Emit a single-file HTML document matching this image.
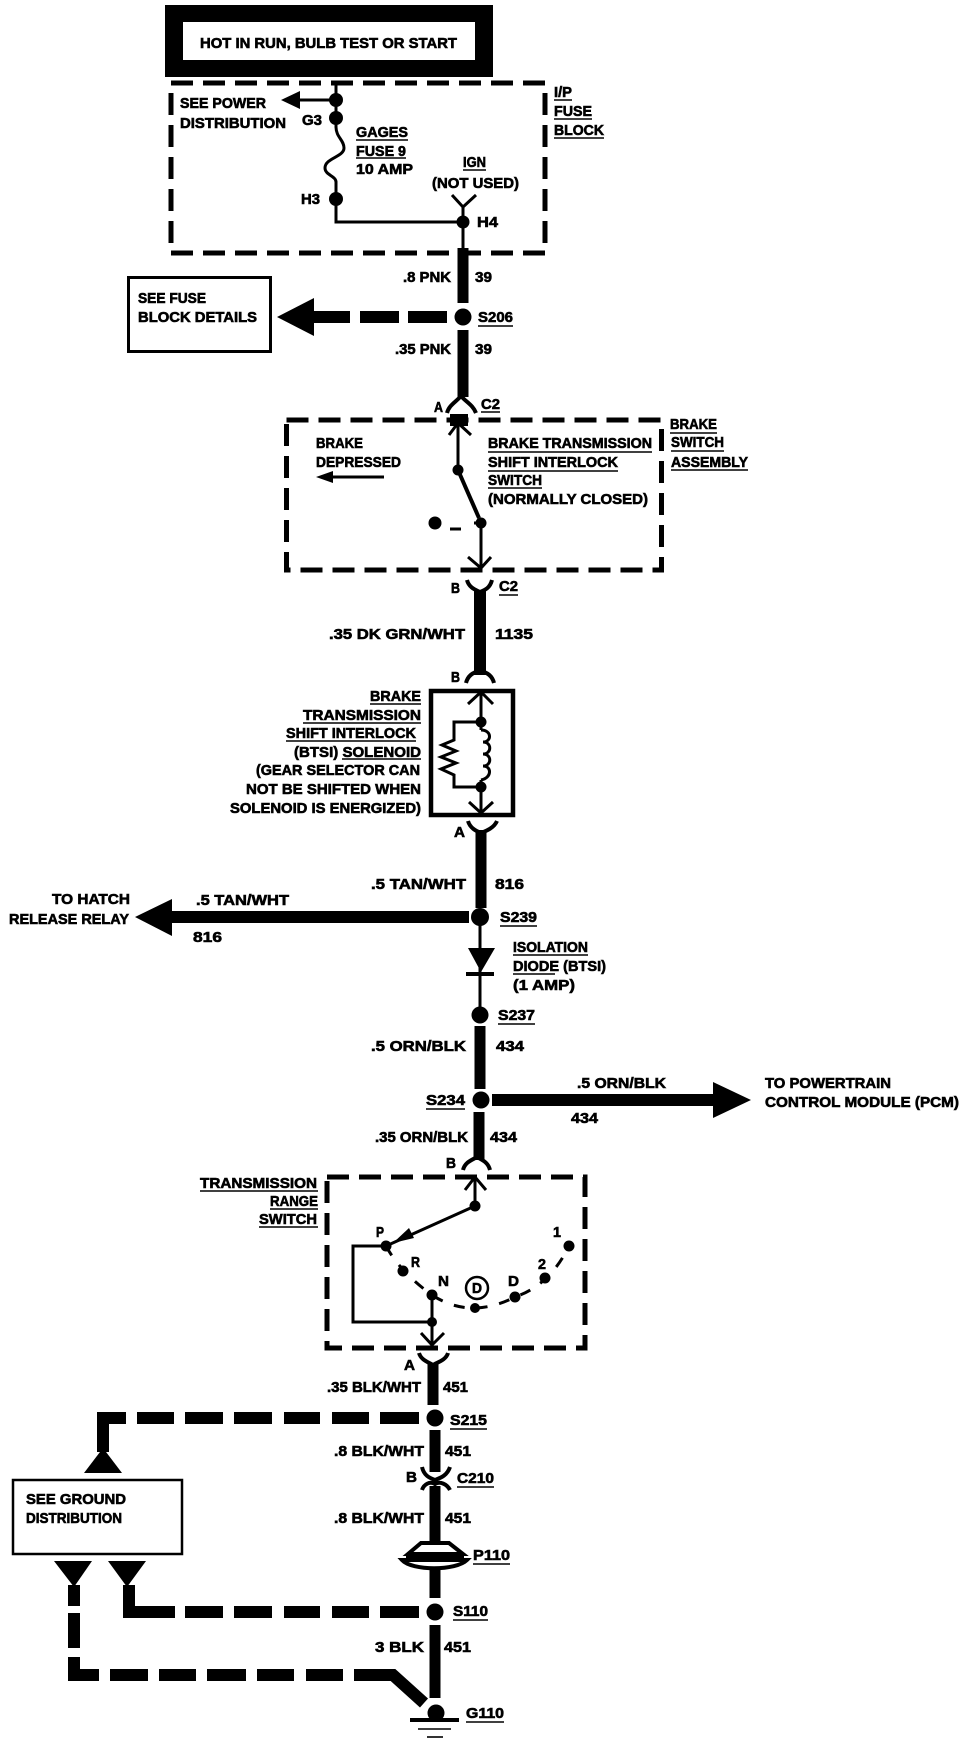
<!DOCTYPE html>
<html><head><meta charset="utf-8"><style>
html,body{margin:0;padding:0;background:#fff;width:960px;height:1744px;overflow:hidden}
svg{display:block}
text{font-family:"Liberation Sans",sans-serif;font-weight:700;font-size:14.5px;fill:#000;stroke:#000;stroke-width:.6}
.d5{fill:none;stroke:#000;stroke-width:5;stroke-dasharray:22 10}
.u{stroke:#000;stroke-width:1.6;fill:none}
.t{stroke:#000;stroke-width:3;fill:none}
.w{stroke:#000;stroke-width:11;fill:none}
.a{stroke:#000;stroke-width:4;fill:none}
.b{stroke:#000;stroke-width:12;fill:none}
</style></head><body>
<svg width="960" height="1744" viewBox="0 0 960 1744" xmlns="http://www.w3.org/2000/svg">
<rect width="960" height="1744" fill="#fff"/>
<!-- header -->
<rect x="165" y="5" width="328" height="72" fill="#000"/>
<rect x="183" y="22" width="292" height="38" fill="#fff"/>
<text x="200" y="48" textLength="257" lengthAdjust="spacingAndGlyphs">HOT IN RUN, BULB TEST OR START</text>
<!-- IP fuse block -->
<rect x="171" y="83" width="374" height="170" class="d5"/>
<path class="t" d="M336 83V127C336 137 344 140 344 148C344 157 325 158 325 168C325 175 336 176 336 182V222H463"/>
<path class="t" stroke-width="4" d="M336 100H300"/>
<path d="M281 100L300 91V109Z"/>
<circle cx="336" cy="100" r="7"/><circle cx="336" cy="118" r="7"/><circle cx="336" cy="199" r="7"/><circle cx="463" cy="222" r="6.5"/>
<path class="t" d="M463 207V250M452 195L463 207L476 195"/>
<text x="180" y="108" textLength="86" lengthAdjust="spacingAndGlyphs">SEE POWER</text>
<text x="180" y="128" textLength="106" lengthAdjust="spacingAndGlyphs">DISTRIBUTION</text>
<text x="302" y="125" textLength="20" lengthAdjust="spacingAndGlyphs">G3</text>
<text x="356" y="137" textLength="52" lengthAdjust="spacingAndGlyphs">GAGES</text>
<text x="356" y="156" textLength="50" lengthAdjust="spacingAndGlyphs">FUSE 9</text>
<text x="356" y="174" textLength="57" lengthAdjust="spacingAndGlyphs">10 AMP</text>
<text x="463" y="167" textLength="23" lengthAdjust="spacingAndGlyphs">IGN</text>
<text x="432" y="188" textLength="87" lengthAdjust="spacingAndGlyphs">(NOT USED)</text>
<text x="301" y="204" textLength="19" lengthAdjust="spacingAndGlyphs">H3</text>
<text x="477" y="227" textLength="21" lengthAdjust="spacingAndGlyphs">H4</text>
<text x="554" y="97" textLength="18" lengthAdjust="spacingAndGlyphs">I/P</text>
<text x="554" y="116" textLength="38" lengthAdjust="spacingAndGlyphs">FUSE</text>
<text x="554" y="135" textLength="50" lengthAdjust="spacingAndGlyphs">BLOCK</text>
<path class="u" d="M356 140H408M356 158H406M463 170H486M554 100H572M554 119H592M554 138H604"/>
<!-- wire 39 -->
<path class="w" d="M463 248V303M463 330V397"/>
<text x="403" y="282" textLength="48" lengthAdjust="spacingAndGlyphs">.8 PNK</text>
<text x="475" y="282" textLength="17" lengthAdjust="spacingAndGlyphs">39</text>
<text x="395" y="354" textLength="56" lengthAdjust="spacingAndGlyphs">.35 PNK</text>
<text x="475" y="354" textLength="17" lengthAdjust="spacingAndGlyphs">39</text>
<rect x="128.500" y="277.500" width="142" height="74" fill="#fff" stroke="#000" stroke-width="3"/>
<text x="138" y="303" textLength="68" lengthAdjust="spacingAndGlyphs">SEE FUSE</text>
<text x="138" y="322" textLength="119" lengthAdjust="spacingAndGlyphs">BLOCK DETAILS</text>
<path d="M277 317L314 298V336Z"/>
<path class="b" d="M312 317H350M360 317H399M408 317H447"/>
<circle cx="463" cy="317" r="8.500"/>
<text x="478" y="322" textLength="35" lengthAdjust="spacingAndGlyphs">S206</text>
<path class="u" d="M478 326H513"/>
<!-- C2 A -->
<path class="a" d="M447 413C449 405 456 402 461 396C466 402 473 405 476 413"/>
<text x="434" y="412" textLength="9" lengthAdjust="spacingAndGlyphs">A</text>
<text x="481" y="409" textLength="19" lengthAdjust="spacingAndGlyphs">C2</text>
<path class="u" d="M481 412H500"/>
<!-- brake switch -->
<rect x="286.500" y="420" width="375" height="150" class="d5" stroke-dasharray="20 9"/>
<path class="b" stroke-width="5" d="M450 420H468"/>
<path class="t" d="M458 423V470M449 435L458 423L471 435M481 523V568M468 557L481 568L491 557"/>
<path class="a" d="M458 470L479 518"/>
<circle cx="458" cy="470" r="5.500"/><circle cx="481" cy="523" r="5.500"/><circle cx="435" cy="523" r="6.500"/>
<path class="t" d="M450 529H461M474 523H481"/>
<text x="316" y="448" textLength="47" lengthAdjust="spacingAndGlyphs">BRAKE</text>
<text x="316" y="467" textLength="85" lengthAdjust="spacingAndGlyphs">DEPRESSED</text>
<path class="t" d="M330 477H384"/><path d="M316 477L333 471V483Z"/>
<text x="488" y="448" textLength="164" lengthAdjust="spacingAndGlyphs">BRAKE  TRANSMISSION</text>
<text x="488" y="467" textLength="130" lengthAdjust="spacingAndGlyphs">SHIFT  INTERLOCK</text>
<text x="488" y="485" textLength="54" lengthAdjust="spacingAndGlyphs">SWITCH</text>
<text x="488" y="504" textLength="160" lengthAdjust="spacingAndGlyphs">(NORMALLY  CLOSED)</text>
<text x="670" y="429" textLength="47" lengthAdjust="spacingAndGlyphs">BRAKE</text>
<text x="671" y="447" textLength="53" lengthAdjust="spacingAndGlyphs">SWITCH</text>
<text x="671" y="467" textLength="77" lengthAdjust="spacingAndGlyphs">ASSEMBLY</text>
<path class="u" d="M488 452H652M488 471H618M488 488H542M670 433H717M671 451H724M671 470H748"/>
<!-- C2 B wire 1135 -->
<path class="a" d="M467 580C469 588 476 590 480 592C485 590 490 588 492 580"/>
<path class="b" d="M480 590V675"/>
<path class="a" d="M466 683C468 675 474 672 480 671C486 672 492 675 494 683"/>
<text x="451" y="593" textLength="9" lengthAdjust="spacingAndGlyphs">B</text>
<text x="499" y="591" textLength="19" lengthAdjust="spacingAndGlyphs">C2</text>
<path class="u" d="M499 595H518"/>
<text x="329" y="639" textLength="136" lengthAdjust="spacingAndGlyphs">.35  DK  GRN/WHT</text>
<text x="495" y="639" textLength="38" lengthAdjust="spacingAndGlyphs">1135</text>
<text x="451" y="682" textLength="9" lengthAdjust="spacingAndGlyphs">B</text>
<!-- solenoid -->
<rect x="431" y="691" width="82" height="124" fill="none" stroke="#000" stroke-width="4.500"/>
<path class="t" d="M481 692V730M481 780V813M468 704L481 692L493 704M469 802L481 813L493 802"/>
<path class="t" d="M481 722H454V740L442 745L456 751L441 757L456 763L441 769L454 775V787H481"/>
<path class="t" d="M481 730C492 730 492 742 483 742C492 742 492 754 483 754C492 754 492 766 483 766C492 766 492 778 481 780"/>
<circle cx="481" cy="722" r="5.500"/><circle cx="481" cy="787" r="5.500"/>
<g text-anchor="end">
<text x="421" y="701" textLength="51" lengthAdjust="spacingAndGlyphs">BRAKE</text>
<text x="421" y="720" textLength="118" lengthAdjust="spacingAndGlyphs">TRANSMISSION</text>
<text x="416" y="738" textLength="130" lengthAdjust="spacingAndGlyphs">SHIFT  INTERLOCK</text>
<text x="421" y="757" textLength="127" lengthAdjust="spacingAndGlyphs">(BTSI) SOLENOID</text>
<text x="420" y="775" textLength="164" lengthAdjust="spacingAndGlyphs">(GEAR SELECTOR CAN</text>
<text x="421" y="794" textLength="175" lengthAdjust="spacingAndGlyphs">NOT BE SHIFTED WHEN</text>
<text x="421" y="813" textLength="191" lengthAdjust="spacingAndGlyphs">SOLENOID IS ENERGIZED)</text>
</g>
<path class="u" d="M370 704H421M303 723H421M286 741H416M342 759H421"/>
<path class="a" d="M468 821C470 828 476 831 481 833C486 831 494 828 497 821"/>
<text x="454" y="837" textLength="11" lengthAdjust="spacingAndGlyphs">A</text>
<path class="w" d="M481 830V908"/>
<text x="371" y="889" textLength="95" lengthAdjust="spacingAndGlyphs">.5  TAN/WHT</text>
<text x="495" y="889" textLength="29" lengthAdjust="spacingAndGlyphs">816</text>
<!-- S239 -->
<path class="b" d="M170 917H469"/>
<path d="M135 917L172 899V936Z"/>
<circle cx="480" cy="917" r="9"/>
<text x="500" y="922" textLength="37" lengthAdjust="spacingAndGlyphs">S239</text>
<path class="u" d="M500 926H537"/>
<text x="196" y="905" textLength="93" lengthAdjust="spacingAndGlyphs">.5 TAN/WHT</text>
<text x="193" y="942" textLength="29" lengthAdjust="spacingAndGlyphs">816</text>
<text x="52" y="904" textLength="78" lengthAdjust="spacingAndGlyphs">TO  HATCH</text>
<text x="9" y="924" textLength="120" lengthAdjust="spacingAndGlyphs">RELEASE  RELAY</text>
<!-- diode -->
<path class="t" d="M480 917V1015"/>
<path d="M468 948H495L481 972Z"/>
<path class="a" d="M466 974H494"/>
<circle cx="480" cy="1015" r="8.500"/>
<text x="498" y="1020" textLength="37" lengthAdjust="spacingAndGlyphs">S237</text>
<text x="513" y="952" textLength="75" lengthAdjust="spacingAndGlyphs">ISOLATION</text>
<text x="513" y="971" textLength="93" lengthAdjust="spacingAndGlyphs">DIODE (BTSI)</text>
<text x="513" y="990" textLength="62" lengthAdjust="spacingAndGlyphs">(1  AMP)</text>
<path class="u" d="M498 1024H535M513 955H588M513 974H555"/>
<path class="w" d="M480 1026V1089"/>
<text x="371" y="1051" textLength="95" lengthAdjust="spacingAndGlyphs">.5  ORN/BLK</text>
<text x="496" y="1051" textLength="28" lengthAdjust="spacingAndGlyphs">434</text>
<!-- S234 -->
<circle cx="481" cy="1100" r="8.500"/>
<path class="b" d="M492 1100H715"/>
<path d="M751 1100L713 1082V1118Z"/>
<text x="426" y="1105" textLength="39" lengthAdjust="spacingAndGlyphs">S234</text>
<path class="u" d="M426 1109H465"/>
<text x="577" y="1088" textLength="89" lengthAdjust="spacingAndGlyphs">.5 ORN/BLK</text>
<text x="571" y="1123" textLength="27" lengthAdjust="spacingAndGlyphs">434</text>
<text x="765" y="1088" textLength="126" lengthAdjust="spacingAndGlyphs">TO POWERTRAIN</text>
<text x="765" y="1107" textLength="194" lengthAdjust="spacingAndGlyphs">CONTROL MODULE (PCM)</text>
<path class="w" d="M479 1112V1160"/>
<text x="375" y="1142" textLength="93" lengthAdjust="spacingAndGlyphs">.35 ORN/BLK</text>
<text x="490" y="1142" textLength="27" lengthAdjust="spacingAndGlyphs">434</text>
<path class="a" d="M463 1170C465 1162 472 1160 477 1157C482 1160 488 1162 490 1170"/>
<text x="446" y="1168" textLength="10" lengthAdjust="spacingAndGlyphs">B</text>
<!-- range switch -->
<rect x="327" y="1177" width="258" height="171" class="d5"/>
<path class="t" d="M475 1177V1206M465 1190L475 1177L486 1190"/>
<path class="t" d="M475 1206L386 1246"/><path d="M393 1243L409 1228L414 1238Z"/>
<path class="t" d="M386 1246H353V1322H432M432 1295V1345M421 1333L432 1345L444 1333"/>
<path fill="none" stroke="#000" stroke-width="3" stroke-dasharray="11 12" d="M386 1246Q400 1272 432 1295Q470 1320 515 1297Q550 1285 569 1246"/>
<circle cx="386" cy="1246" r="5.500"/><circle cx="403" cy="1271" r="5.500"/><circle cx="432" cy="1295" r="5.500"/><circle cx="432" cy="1322" r="5"/><circle cx="475" cy="1206" r="5.500"/><circle cx="475" cy="1308" r="5"/><circle cx="515" cy="1297" r="5.500"/><circle cx="545" cy="1278" r="5.500"/><circle cx="569" cy="1246" r="5.500"/>
<circle cx="477" cy="1288" r="11" fill="none" stroke="#000" stroke-width="2.500"/>
<text x="472" y="1293" textLength="10" lengthAdjust="spacingAndGlyphs">D</text>
<text x="376" y="1237" textLength="8" lengthAdjust="spacingAndGlyphs">P</text>
<text x="411" y="1267" textLength="9" lengthAdjust="spacingAndGlyphs">R</text>
<text x="438" y="1286" textLength="11" lengthAdjust="spacingAndGlyphs">N</text>
<text x="508" y="1286" textLength="11" lengthAdjust="spacingAndGlyphs">D</text>
<text x="538" y="1269" textLength="8" lengthAdjust="spacingAndGlyphs">2</text>
<text x="553" y="1237" textLength="8" lengthAdjust="spacingAndGlyphs">1</text>
<text x="200" y="1188" textLength="117" lengthAdjust="spacingAndGlyphs">TRANSMISSION</text>
<text x="270" y="1206" textLength="48" lengthAdjust="spacingAndGlyphs">RANGE</text>
<text x="259" y="1224" textLength="58" lengthAdjust="spacingAndGlyphs">SWITCH</text>
<path class="u" d="M200 1191H318M270 1209H318M259 1227H318"/>
<path class="a" d="M419 1353C421 1360 428 1362 433 1365C438 1362 446 1360 448 1353"/>
<path class="w" d="M433 1363V1405"/>
<text x="404" y="1370" textLength="11" lengthAdjust="spacingAndGlyphs">A</text>
<text x="327" y="1392" textLength="94" lengthAdjust="spacingAndGlyphs">.35 BLK/WHT</text>
<text x="443" y="1392" textLength="25" lengthAdjust="spacingAndGlyphs">451</text>
<!-- S215 -->
<circle cx="435" cy="1418" r="8.500"/>
<text x="450" y="1425" textLength="37" lengthAdjust="spacingAndGlyphs">S215</text>
<path class="u" d="M450 1429H487"/>
<path class="b" d="M380 1418H419M332 1418H369M284 1418H320M234 1418H272M185 1418H223M137 1418H174"/>
<path class="b" d="M126 1418H103V1452"/>
<path d="M103 1448L84 1473H122Z"/>
<rect x="13" y="1480" width="169" height="74" fill="#fff" stroke="#000" stroke-width="2.500"/>
<text x="26" y="1504" textLength="100" lengthAdjust="spacingAndGlyphs">SEE  GROUND</text>
<text x="26" y="1523" textLength="96" lengthAdjust="spacingAndGlyphs">DISTRIBUTION</text>
<path class="w" d="M435 1430V1472"/>
<text x="334" y="1456" textLength="90" lengthAdjust="spacingAndGlyphs">.8 BLK/WHT</text>
<text x="445" y="1456" textLength="26" lengthAdjust="spacingAndGlyphs">451</text>
<!-- C210 -->
<path class="a" d="M422 1467C424 1476 430 1478 435 1480C440 1478 447 1476 450 1467"/>
<path class="a" d="M422 1490C424 1484 430 1481 435 1484C440 1481 447 1484 450 1490"/>
<path class="w" d="M435 1486V1542"/>
<text x="406" y="1482" textLength="11" lengthAdjust="spacingAndGlyphs">B</text>
<text x="457" y="1483" textLength="37" lengthAdjust="spacingAndGlyphs">C210</text>
<path class="u" d="M457 1487H494"/>
<text x="334" y="1523" textLength="90" lengthAdjust="spacingAndGlyphs">.8 BLK/WHT</text>
<text x="445" y="1523" textLength="26" lengthAdjust="spacingAndGlyphs">451</text>
<!-- P110 -->
<path class="a" fill="#fff" d="M408 1554L421 1543H449L463 1554Z"/>
<path class="a" d="M406 1556H464"/>
<path class="a" fill="#fff" d="M402 1560C412 1571 456 1571 467 1560Z"/>
<path class="w" d="M435 1569V1598"/>
<text x="473" y="1560" textLength="37" lengthAdjust="spacingAndGlyphs">P110</text>
<path class="u" d="M473 1564H510"/>
<!-- S110 -->
<circle cx="435" cy="1612" r="8.500"/>
<text x="453" y="1616" textLength="35" lengthAdjust="spacingAndGlyphs">S110</text>
<path class="u" d="M453 1620H488"/>
<path class="b" d="M129 1585V1612H175M185 1612H223M234 1612H272M284 1612H320M332 1612H369M380 1612H419"/>
<path d="M108 1561H146L127 1587Z"/>
<path d="M54 1561H92L74 1587Z"/>
<path class="b" d="M74 1585V1606M74 1613V1648M74 1657V1675H99M110 1675H148M159 1675H196M207 1675H246M257 1675H294M306 1675H343"/>
<path class="b" d="M354 1675H393L424 1703"/>
<path class="w" d="M435 1625V1698"/>
<text x="375" y="1652" textLength="49" lengthAdjust="spacingAndGlyphs">3  BLK</text>
<text x="444" y="1652" textLength="27" lengthAdjust="spacingAndGlyphs">451</text>
<!-- G110 -->
<circle cx="436" cy="1713" r="8.500"/>
<path class="a" d="M410 1720H459"/>
<path class="u" stroke-width="2" d="M418 1729H451"/>
<path class="u" stroke-width="2" d="M427 1737H443"/>
<text x="466" y="1718" textLength="38" lengthAdjust="spacingAndGlyphs">G110</text>
<path class="u" d="M466 1722H504"/>
</svg>
</body></html>
